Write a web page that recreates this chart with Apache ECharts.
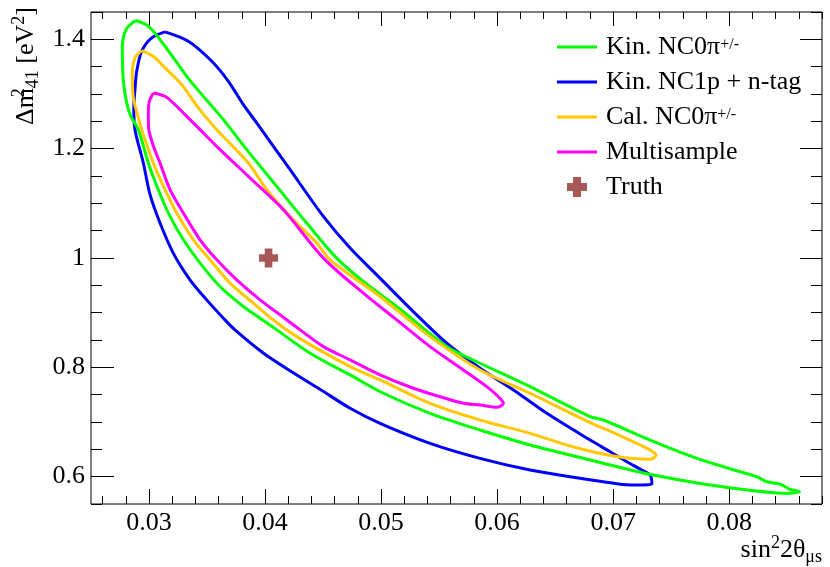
<!DOCTYPE html>
<html>
<head>
<meta charset="utf-8">
<script src="https://cdn.jsdelivr.net/npm/echarts@6/dist/echarts.min.js"></script>
<style>
html,body{margin:0;padding:0;background:#fff;}
#chart{width:830px;height:567px;}
</style>
</head>
<body>
<div id="chart"></div>
<script>
// ---- data (sin^2 2theta_mus, dm^2_41 [eV^2]) ----
const kinNC0pi = [
  [0.02885,1.4344],[0.02994,1.4240],[0.03138,1.3874],[0.03325,1.3324],[0.03468,1.2958],
  [0.03641,1.2531],[0.03842,1.1982],[0.04101,1.1310],[0.04359,1.0639],
  [0.04618,0.9998],[0.04847,0.9570],[0.05135,0.9112],[0.05566,0.8379],[0.05853,0.8075],
  [0.06284,0.7647],[0.06802,0.7097],[0.06916,0.7037],[0.07319,0.6670],[0.07722,0.6335],
  [0.07980,0.6163],[0.08095,0.6090],[0.08239,0.5998],[0.08325,0.5907],[0.08440,0.5864],
  [0.08526,0.5767],[0.08606,0.5723],[0.08497,0.5694],[0.08209,0.5742],[0.07778,0.5864],
  [0.07347,0.6029],[0.06974,0.6212],[0.06802,0.6304],[0.06284,0.6579],[0.05853,0.6853],
  [0.05422,0.7159],[0.05020,0.7526],[0.04733,0.7861],[0.04388,0.8258],[0.04101,0.8685],
  [0.03957,0.8899],[0.03813,0.9112],[0.03612,0.9478],[0.03440,0.9907],[0.03296,1.0333],
  [0.03181,1.0760],[0.03080,1.1249],
  [0.02994,1.1738],[0.02908,1.2348],[0.02841,1.2604],[0.02802,1.2897],[0.02778,1.3264],
  [0.02770,1.3850],[0.02802,1.4179]
];
const kinNC1pNtag = [
  [0.03138,1.4137],[0.03339,1.3965],[0.03541,1.3599],[0.03684,1.3233],[0.03813,1.2806],
  [0.03928,1.2471],[0.04216,1.1615],[0.04503,1.0760],[0.04733,1.0181],[0.04991,0.9632],
  [0.05278,0.9020],[0.05566,0.8441],[0.05853,0.7984],[0.06141,0.7586],[0.06428,0.7159],
  [0.06802,0.6670],[0.06974,0.6456],[0.07118,0.6273],[0.07247,0.6121],[0.07319,0.6029],
  [0.07334,0.5859],[0.07147,0.5846],[0.06916,0.5907],[0.06629,0.5998],[0.06284,0.6121],
  [0.05853,0.6335],[0.05422,0.6610],[0.04991,0.6976],[0.04733,0.7251],[0.04483,0.7586],
  [0.04250,0.7892],[0.03987,0.8258],[0.03741,0.8685],[0.03641,0.8899],[0.03497,0.9234],
  [0.03353,0.9601],[0.03209,1.0090],[0.03095,1.0639],[0.03009,1.1158],[0.02951,1.1738],
  [0.02879,1.2348],[0.02869,1.2751],[0.02879,1.3081],[0.02894,1.3416],[0.02937,1.3782],
  [0.03023,1.4027]
];
const calNC0pi = [
  [0.02937,1.3795],[0.03037,1.3690],[0.03138,1.3478],[0.03282,1.3172],[0.03425,1.2745],
  [0.03584,1.2348],[0.03856,1.1738],[0.04015,1.1249],[0.04216,1.0760],[0.04446,1.0273],
  [0.04560,0.9967],[0.04991,0.9295],[0.05422,0.8562],[0.05853,0.7952],[0.06284,0.7526],
  [0.06802,0.6987],[0.06974,0.6835],[0.07233,0.6579],[0.07319,0.6487],[0.07371,0.6396],
  [0.07319,0.6317],[0.07003,0.6377],[0.06629,0.6560],[0.06284,0.6793],[0.05853,0.7037],
  [0.05422,0.7342],[0.04991,0.7769],[0.04733,0.8013],[0.04273,0.8562],[0.04052,0.8899],
  [0.03899,0.9174],[0.03698,0.9540],[0.03526,0.9967],[0.03382,1.0333],[0.03239,1.0822],
  [0.03138,1.1249],[0.03037,1.1738],
  [0.02937,1.2348],[0.02901,1.2623],[0.02865,1.2929],[0.02856,1.3355],[0.02879,1.3661]
];
const multisample = [
  [0.03037,1.3020],[0.03138,1.2958],[0.03224,1.2806],[0.03310,1.2623],[0.03440,1.2348],
  [0.03612,1.1982],[0.03856,1.1493],[0.04158,1.0883],[0.04503,0.9998],[0.04847,0.9357],
  [0.05135,0.8868],[0.05422,0.8379],[0.05709,0.7952],[0.05911,0.7647],[0.06011,0.7463],
  [0.06054,0.7342],[0.05997,0.7269],[0.05853,0.7311],[0.05709,0.7342],[0.05509,0.7463],
  [0.05278,0.7617],[0.04991,0.7861],[0.04733,0.8136],[0.04503,0.8379],[0.04302,0.8685],
  [0.04129,0.8960],[0.03957,0.9234],[0.03756,0.9601],[0.03584,0.9967],[0.03440,1.0333],
  [0.03296,1.0822],[0.03181,1.1249],[0.03095,1.1738],
  [0.03034,1.2073],[0.02996,1.2385],[0.02994,1.2623],[0.03003,1.2866]
];
const truth = [[0.0403, 1.0]];

const xMajorTicks = [0.03, 0.04, 0.05, 0.06, 0.07, 0.08];
const yMajorTicks = [0.6, 0.8, 1, 1.2, 1.4];
const xMinorTicks = [];
for (let i = 13; i <= 44; i++) xMinorTicks.push(+(i * 0.002).toFixed(3));
const yMinorTicks = [];
for (let i = 11; i <= 29; i++) yMinorTicks.push(+(i * 0.05).toFixed(2));

const seriesNames = ['Kin. NC0π+/-', 'Kin. NC1p + n-tag', 'Cal. NC0π+/-', 'Multisample', 'Truth'];
const legendRich = {
  'Kin. NC0π+/-': '{n|Kin. NC0π}{s|+/-}',
  'Kin. NC1p + n-tag': '{n|Kin. NC1p + n-tag}',
  'Cal. NC0π+/-': '{n|Cal. NC0π}{s|+/-}',
  'Multisample': '{n|Multisample}',
  'Truth': '{n|Truth}'
};

const FONT = 'Liberation Serif';
const close = a => a.concat([a[0]]);
const LINE_ICON = 'path://M0,0H40V3H0Z';

const chart = echarts.init(document.getElementById('chart'), null, {renderer: 'canvas'});

const tickLabelRich = {t: {fontFamily: FONT, fontSize: 26, color: '#000'}};

function xAx(pos, ticks, len, labels) {
  return {
    type: 'value', min: 0.025, max: 0.088, position: pos, offset: 0,
    axisLine: {show: false}, splitLine: {show: false},
    axisTick: {show: true, inside: true, length: len, customValues: ticks, lineStyle: {color: '#000', width: 1}},
    axisLabel: labels ? {show: true, customValues: xMajorTicks, margin: 6, color: '#000', fontFamily: FONT, fontSize: 26,
                         formatter: v => '{t|' + (+v.toFixed(3)) + '}', rich: tickLabelRich}
                      : {show: false}
  };
}
function yAx(pos, ticks, len, labels) {
  return {
    type: 'value', min: 0.55, max: 1.45, position: pos, offset: 0,
    axisLine: {show: false}, splitLine: {show: false},
    axisTick: {show: true, inside: true, length: len, customValues: ticks, lineStyle: {color: '#000', width: 1}},
    axisLabel: labels ? {show: true, customValues: yMajorTicks, margin: 6, color: '#000', fontFamily: FONT, fontSize: 26,
                         formatter: v => '{t|' + (+v.toFixed(2)) + '}', rich: tickLabelRich}
                      : {show: false}
  };
}

const mainRich = {
  m: {fontFamily: FONT, fontSize: 26, lineHeight: 32, color: '#000', verticalAlign: 'middle'},
  sup: {fontFamily: FONT, fontSize: 18, lineHeight: 13, color: '#000', verticalAlign: 'top'},
  supz: {fontFamily: FONT, fontSize: 18, lineHeight: 13, color: '#000', verticalAlign: 'top', width: 0},
  sub: {fontFamily: FONT, fontSize: 18, lineHeight: 14, color: '#000', verticalAlign: 'bottom'}
};

function contour(name, data, color, z) {
  return {
    name: name, type: 'line', data: close(data), xAxisIndex: 0, yAxisIndex: 0,
    symbol: 'none', smooth: 0.3, z: z, silent: true,
    lineStyle: {color: color, width: 3}, itemStyle: {color: color}
  };
}

const option = {
  animation: false,
  backgroundColor: '#fff',
  textStyle: {fontFamily: FONT, color: '#000'},
  grid: {left: 91, right: 8, top: 12, bottom: 63, show: true, borderColor: '#000', borderWidth: 1, backgroundColor: 'transparent'},
  xAxis: [
    xAx('bottom', xMajorTicks, 15, true),
    xAx('top', xMajorTicks, 14, false),
    xAx('bottom', xMinorTicks, 8, false),
    xAx('top', xMinorTicks, 7, false)
  ],
  yAxis: [
    yAx('left', yMajorTicks, 23, true),
    yAx('right', yMajorTicks, 22, false),
    yAx('left', yMinorTicks, 11, false),
    yAx('right', yMinorTicks, 11, false)
  ],
  legend: {
    data: [
      {name: seriesNames[0], icon: LINE_ICON},
      {name: seriesNames[1], icon: LINE_ICON},
      {name: seriesNames[2], icon: LINE_ICON},
      {name: seriesNames[3], icon: LINE_ICON},
      {name: seriesNames[4]}
    ],
    orient: 'vertical', left: 557, top: 34, padding: 0,
    itemWidth: 40, itemHeight: 20, itemGap: 9,
    selectedMode: false,
    formatter: name => legendRich[name],
    textStyle: {
      color: '#000', fontFamily: FONT, fontSize: 26, lineHeight: 20,
      rich: {
        n: {fontFamily: FONT, fontSize: 26, lineHeight: 20, color: '#000', padding: [0, 0, 0, 4]},
        s: {fontFamily: FONT, fontSize: 16, lineHeight: 12, color: '#000', verticalAlign: 'top'}
      }
    }
  },
  graphic: [
    {
      type: 'text', x: 822, y: 550, silent: true,
      style: {
        text: '{m|sin}{sup|2}{m|2θ}{sub|μs}', rich: mainRich,
        align: 'right', verticalAlign: 'middle', fill: '#000'
      }
    },
    {
      type: 'text', x: 26, y: 7, rotation: Math.PI / 2, silent: true,
      style: {
        text: '{m|Δm}{supz|2}{sub|41}{m| [eV}{sup|2}{m|]}', rich: mainRich,
        align: 'right', verticalAlign: 'middle', fill: '#000'
      }
    }
  ],
  series: [
    contour(seriesNames[1], kinNC1pNtag, '#0000ff', 2),
    contour(seriesNames[0], kinNC0pi, '#00ff00', 3),
    contour(seriesNames[2], calNC0pi, '#ffc800', 4),
    contour(seriesNames[3], multisample, '#ff00ff', 5),
    {
      name: seriesNames[4], type: 'scatter', data: truth, z: 6,
      symbol: 'path://M3,0H7V3H10V7H7V10H3V7H0V3H3Z', symbolSize: 19,
      itemStyle: {color: '#912f2f'}
    }
  ]
};
chart.setOption(option);
</script>
</body>
</html>
